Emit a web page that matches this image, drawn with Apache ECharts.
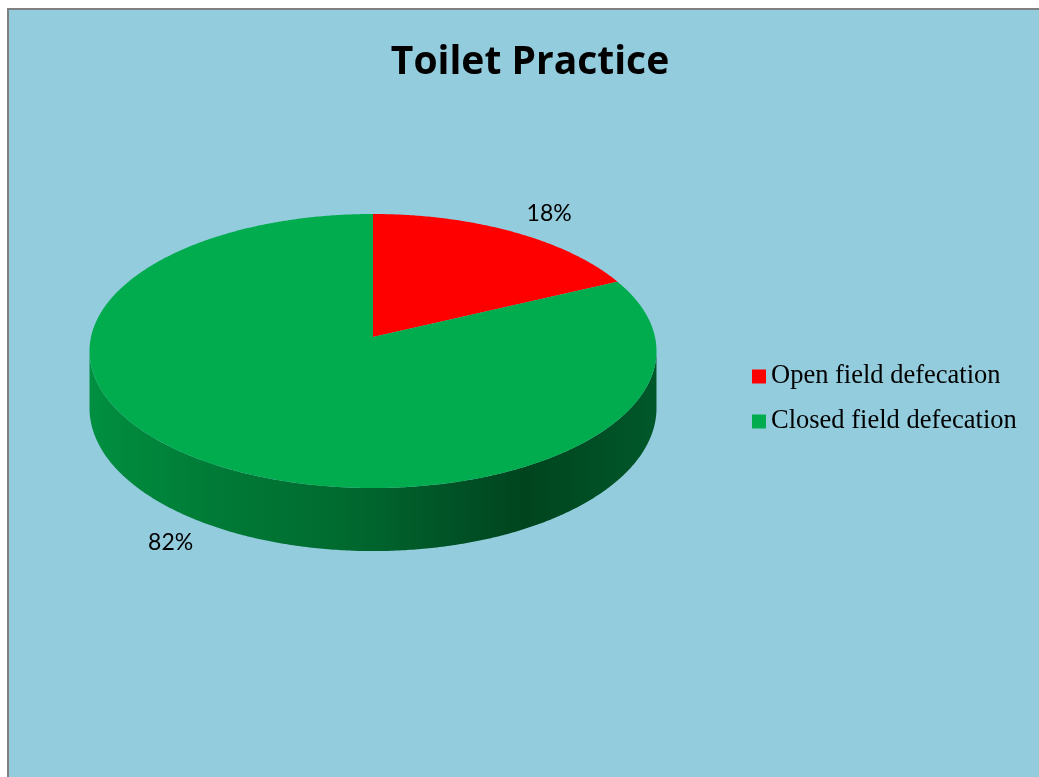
<!DOCTYPE html>
<html>
<head>
<meta charset="utf-8">
<title>Toilet Practice</title>
<script src="https://cdn.jsdelivr.net/npm/echarts@6/dist/echarts.min.js"></script>
<style>
  html, body { margin: 0; padding: 0; background: #ffffff; }
  #chart { width: 1039px; height: 777px; }
</style>
</head>
<body>
<div id="chart"></div>
<script>
// Slice names and their shares (%)
const categories = ['Open field defecation', 'Closed field defecation'];
const shares = [18, 82];
const sliceColors = ['#FF0000', '#00AC4E'];

// Tilted-disc geometry: centre of the disc, its radii on screen,
// perspective strength and wall thickness.
const PIE = { cx: 373, cy: 337, a: 282, b: 135.6, k: 0.1022, h: 56.6 };
const LABEL_OFFSET = { x: 37, y: 18 };

const total = shares.reduce((s, v) => s + v, 0);
const DEG = Math.PI / 180;

// Clockwise angle from 12 o'clock (degrees) -> screen point on the disc.
function project(phiDeg, f) {
  const theta = (90 - phiDeg) * DEG;
  const u = f * Math.cos(theta), v = f * Math.sin(theta);
  const s = 1 / (1 + PIE.k * v);
  return { x: PIE.cx + PIE.a * u * s, y: PIE.cy - PIE.b * v * s, s: s, u: u, v: v };
}

// The wall is seen between the two silhouette points of the disc.
const wallFrom = 90 + Math.asin(PIE.k) / DEG;
const wallTo = 270 - Math.asin(PIE.k) / DEG;

function arcPoints(p0, p1, f) {
  const pts = [];
  const n = Math.max(2, Math.ceil(Math.abs(p1 - p0) / 0.5));
  for (let i = 0; i <= n; i++) {
    const p = project(p0 + (p1 - p0) * i / n, f);
    pts.push([p.x, p.y, p.s]);
  }
  return pts;
}

const wallFill = {
  type: 'linear', global: true,
  x: PIE.cx - PIE.a, y: 0, x2: PIE.cx + PIE.a, y2: 0,
  colorStops: [
    { offset: 0.00, color: '#008F40' },
    { offset: 0.20, color: '#007C37' },
    { offset: 0.45, color: '#006A2F' },
    { offset: 0.62, color: '#005527' },
    { offset: 0.77, color: '#00441E' },
    { offset: 1.00, color: '#00582A' }
  ]
};

function makeRenderer(index) {
  return function (params, api) {
    const before = shares.slice(0, index).reduce((s, v) => s + v, 0);
    const phi0 = 360 * before / total;
    const phi1 = phi0 + 360 * shares[index] / total;
    const children = [];

    // front wall
    const w0 = Math.max(phi0, wallFrom), w1 = Math.min(phi1, wallTo);
    if (w1 > w0) {
      const topEdge = arcPoints(w0, w1, 1);
      const bottomEdge = topEdge.slice().reverse().map(p => [p[0], p[1] + PIE.h * p[2]]);
      children.push({
        type: 'polygon', z2: 1,
        shape: { points: topEdge.map(p => [p[0], p[1]]).concat(bottomEdge) },
        style: { fill: wallFill }
      });
    }

    // top face
    const c = project(0, 0);
    const face = [[c.x, c.y]].concat(arcPoints(phi0, phi1, 1).map(p => [p[0], p[1]]));
    children.push({
      type: 'polygon', z2: 5,
      shape: { points: face },
      style: { fill: sliceColors[index] }
    });

    // percentage label beyond the outer edge of the slice
    const mid = (phi0 + phi1) / 2;
    const edge = project(mid, 1);
    let ay = edge.y;
    if (edge.v < 0) ay += PIE.h * edge.s;
    const lx = edge.x + Math.sign(edge.u) * LABEL_OFFSET.x;
    const ly = ay - Math.sign(edge.v) * LABEL_OFFSET.y;
    const pct = Math.round(shares[index] / total * 100) + '%';
    children.push({
      type: 'text', z2: 10,
      style: {
        text: pct, x: lx, y: ly,
        align: 'center', verticalAlign: 'middle',
        fill: '#000000',
        fontFamily: 'Lato', fontSize: 23
      }
    });

    return { type: 'group', children: children };
  };
}

const chart = echarts.init(document.getElementById('chart'), null, { renderer: 'canvas' });

const option = {
  animation: false,
  backgroundColor: '#ffffff',
  graphic: [{
    type: 'rect', z: -10, silent: true,
    shape: { x: 8, y: 9, width: 1100, height: 800 },
    style: { fill: '#93CCDD', stroke: '#808080', lineWidth: 2 }
  }],
  title: {
    text: 'Toilet Practice',
    left: 530, top: 43, textAlign: 'center', padding: 0,
    textStyle: { fontFamily: 'Open Sans', fontWeight: 'bold', fontSize: 39, color: '#000000' }
  },
  legend: {
    orient: 'vertical',
    left: 752, top: 363, padding: 0,
    icon: 'rect', itemWidth: 14, itemHeight: 14, itemGap: 18,
    data: categories,
    textStyle: { fontFamily: 'Liberation Serif', fontSize: 26.5, lineHeight: 26, color: '#000000' }
  },
  series: categories.map((name, i) => ({
    type: 'custom',
    name: name,
    coordinateSystem: 'none',
    itemStyle: { color: sliceColors[i] },
    renderItem: makeRenderer(i),
    data: [shares[i]]
  }))
};

chart.setOption(option);
</script>
</body>
</html>
